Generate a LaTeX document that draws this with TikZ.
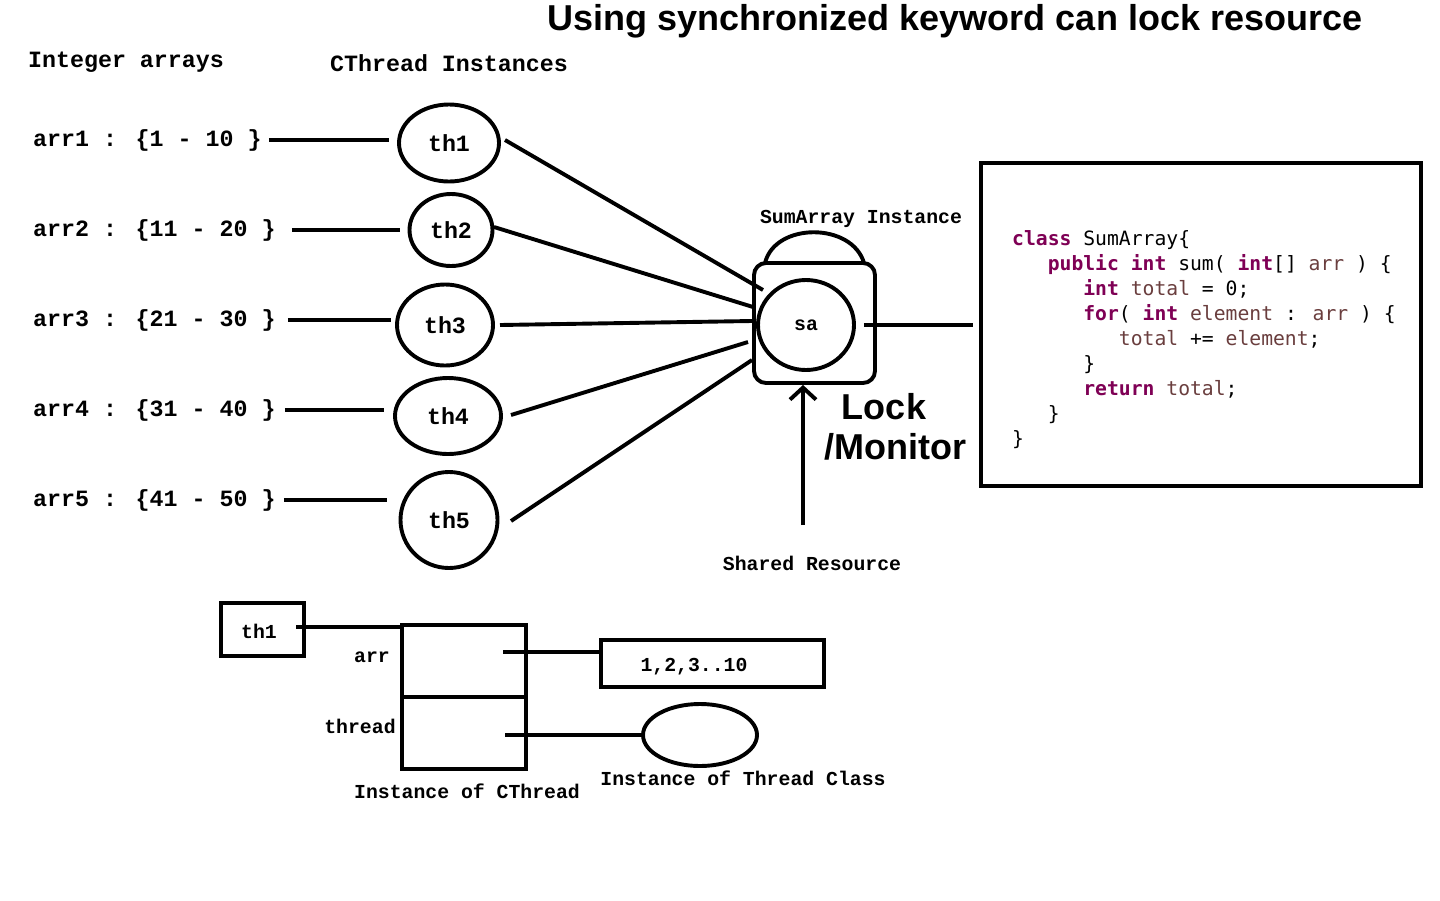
\documentclass[tikz,border=0pt]{standalone}
\usepackage{fontspec}
\usetikzlibrary{shapes.geometric,arrows.meta}
\newfontfamily\courf{Liberation Mono}
\newfontfamily\codef{DejaVu Sans Mono}
\newfontfamily\helvf{Liberation Sans}
\definecolor{kw}{HTML}{7F0055}
\definecolor{vr}{HTML}{6A3E3E}
\begin{document}
\begin{tikzpicture}[x=1pt,y=-1pt,
  every node/.style={inner sep=0pt},
  big/.style={font=\courf\bfseries\fontsize{23.3}{28}\selectfont},
  small/.style={font=\courf\bfseries\fontsize{19.8}{24}\selectfont},
  code/.style={font=\codef\fontsize{19.7}{24}\selectfont, anchor=base west},
  sans/.style={font=\helvf\bfseries\fontsize{36}{40}\selectfont},
  ln/.style={line width=3.9pt},
  thr/.style={ellipse, draw, line width=3.9pt, big},
  boxx/.style={draw, line width=3.9pt},
]
\useasboundingbox (0,0) rectangle (1440,900);
\fill[white] (0,0) rectangle (1440,900);

% title
\node[sans] (title) at (955,21) {Using synchronized keyword can lock resource};

% headings
\node[big] (h1) at (126,62) {Integer arrays};
\node[big] (h2) at (449,63) {CThread Instances};

% arrays
\node[big, anchor=west] (a1) at (33,140) {arr1 : \{1 - 10 \}};
\node[big, anchor=west] (a2) at (33,230) {arr2 : \{11 - 20 \}};
\node[big, anchor=west] (a3) at (33,320) {arr3 : \{21 - 30 \}};
\node[big, anchor=west] (a4) at (33,410) {arr4 : \{31 - 40 \}};
\node[big, anchor=west] (a5) at (33,500) {arr5 : \{41 - 50 \}};

% thread circles
\node[thr, minimum width=100, minimum height=77] (t1) at (449,143) {th1};
\node[thr, minimum width=83, minimum height=72] (t2) at (451,230) {th2};
\node[thr, minimum width=96, minimum height=81] (t3) at (445,325) {th3};
\node[thr, minimum width=106, minimum height=76] (t4) at (448,416) {th4};
\node[thr, minimum width=97, minimum height=96] (t5) at (449,520) {th5};

\draw[ln, shorten <=7pt, shorten >=8pt] (a1.east) -- (a1.east -| t1.west);
\draw[ln, shorten <=16pt, shorten >=8pt] (a2.east) -- (a2.east -| t2.west);
\draw[ln, shorten <=12pt, shorten >=4pt] (a3.east) -- (a3.east -| t3.west);
\draw[ln, shorten <=9pt, shorten >=9pt] (a4.east) -- (a4.east -| t4.west);
\draw[ln, shorten <=8pt, shorten >=12pt] (a5.east) -- (a5.east -| t5.west);

% lock box and sa
\node[draw, line width=3.9pt, rounded corners=12pt, minimum width=121, minimum height=120] (lk) at (814.5,323) {};
\draw[ln] (765,263) .. controls (775,222) and (852,222) .. (864,263);
\node[thr, small, minimum width=96, minimum height=90] (sa) at (806,325) {sa};
\node[small] (sal) at (861,219) {SumArray Instance};

\coordinate (s1) at (763,290);
\coordinate (s2) at (753,307);
\coordinate (s3) at (752,321);
\coordinate (s4) at (748,342);
\coordinate (s5) at (752,360);
\coordinate (o1) at (505,140);
\coordinate (o2) at (494,227);
\coordinate (o3) at (500,325);
\coordinate (o4) at (511,415);
\coordinate (o5) at (511,521);
\draw[ln] (o1) -- (s1);
\draw[ln] (o2) -- (s2);
\draw[ln] (o3) -- (s3);
\draw[ln] (o4) -- (s4);
\draw[ln] (o5) -- (s5);

% code box
\node[boxx, minimum width=440, minimum height=323] (cb) at (1201,324.5) {};
\draw[ln, shorten <=8pt, shorten >=6pt] (sa.east) -- (cb.west |- sa.east);

\node[code] (c1) at (1012,245) {\textcolor{kw}{\bfseries class} SumArray\{};
\node[code] (c2) at (1012,270) {\phantom{xxx}\textcolor{kw}{\bfseries public int} sum( \textcolor{kw}{\bfseries int}[] \textcolor{vr}{arr} ) \{};
\node[code] (c3) at (1012,295) {\phantom{xxxxxx}\textcolor{kw}{\bfseries int} \textcolor{vr}{total} = 0;};
\node[code] (c4) at (1012,320) {\phantom{xxxxxx}\textcolor{kw}{\bfseries for}( \textcolor{kw}{\bfseries int} \textcolor{vr}{element} : \textcolor{vr}{arr} ) \{};
\node[code] (c5) at (1012,345) {\phantom{xxxxxxxxx}\textcolor{vr}{total} += \textcolor{vr}{element};};
\node[code] (c6) at (1012,370) {\phantom{xxxxxx}\}};
\node[code] (c7) at (1012,395) {\phantom{xxxxxx}\textcolor{kw}{\bfseries return} \textcolor{vr}{total};};
\node[code] (c8) at (1012,420) {\phantom{xxx}\}};
\node[code] (c9) at (1012,445) {\}};

% lock label and arrow
\node[sans] (lock) at (884,407) {Lock};
\node[sans] (mon) at (895,447) {/Monitor};
\coordinate (ar) at (803,525);
\draw[ln, -{Straight Barb[length=12pt,width=26pt]}] (ar) -- (ar |- lk.south);
\node[small] (sr) at (812,563) {Shared Resource};

% bottom diagram
\node[boxx, minimum width=83, minimum height=53] (bt) at (262.5,629.5) {};
\node[small] (btl) at (259,631) {th1};
\node[boxx, minimum width=124, minimum height=72] (cbA) at (464,661) {};
\node[boxx, minimum width=124, minimum height=72] (cbB) at (464,733) {};
\node[small] (arrl) at (372,657) {arr};
\node[small] (thl) at (360,726) {thread};
\node[small] (ict) at (467,791) {Instance of CThread};
\node[boxx, minimum width=223, minimum height=47] (vb) at (712.5,663.5) {};
\node[small] (vbl) at (694,667) {1,2,3..10};
\node[ellipse, draw, line width=3.9pt, minimum width=114, minimum height=62] (te) at (700,735) {};
\node[small] (itc) at (743,778) {Instance of Thread Class};

\coordinate (p1) at (296,627);
\coordinate (p2) at (503,652);
\coordinate (p3) at (505,735);
\draw[ln] (p1) -- (p1 -| cbA.west);
\draw[ln] (p2) -- (p2 -| vb.west);
\draw[ln] (p3) -- (p3 -| te.west);
\end{tikzpicture}
\end{document}
